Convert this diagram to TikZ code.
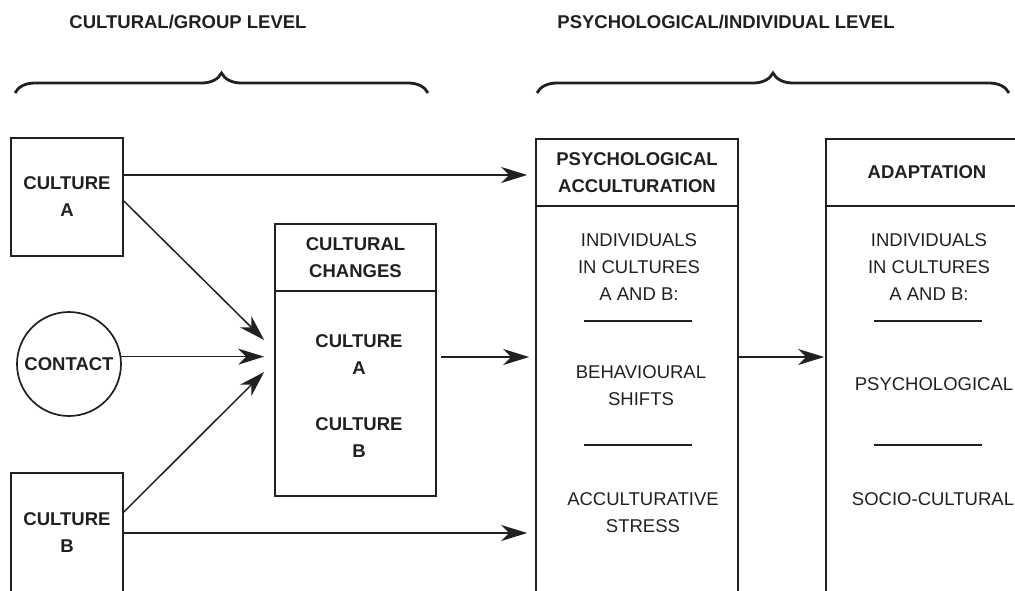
\documentclass[tikz,border=0pt]{standalone}
\usepackage{fontspec}
\setmainfont{Liberation Sans}
\usetikzlibrary{arrows.meta,decorations.pathreplacing}
\definecolor{ink}{HTML}{231F20}

\begin{document}
\begin{tikzpicture}[x=1pt, y=-1pt,
        >={Stealth[length=26pt, width=16pt, inset=8pt]},
        plain/.style={font=\fontsize{18.5}{27}\selectfont, text=ink, align=center},
        bold/.style={font=\fontsize{18.5}{27}\selectfont\bfseries, text=ink, align=center},
        box/.style={draw=ink, line width=1.7pt, inner sep=0pt},
        link/.style={->, draw=ink, line width=1.5pt},
        sepline/.style={draw=ink, line width=1.6pt},
        levelbrace/.style={draw=ink, line width=2.8pt, decorate, decoration={brace, amplitude=20pt}}]

        \clip (0,0) rectangle (1015,590);

        % level titles
        \node[bold] (lvlGroup) at (188,22) {CULTURAL/GROUP LEVEL};
        \node[bold] (lvlIndiv) at (726,22) {PSYCHOLOGICAL/INDIVIDUAL LEVEL};

        % braces
        \draw[levelbrace] (15,93) -- (428,93);
        \draw[levelbrace] (537,93) -- (1009,93);

        % cultures and contact
        \node[box, bold, minimum width=112pt, minimum height=118pt] (cultA) at (67,197) {CULTURE\\A};
        \node[box, bold, circle, minimum size=104pt] (contact) at (69,364) {CONTACT};
        \node[box, bold, minimum width=112pt, minimum height=120pt] (cultB) at (67,533) {CULTURE\\B};

        % cultural changes
        \node[box, minimum width=161pt, minimum height=272pt] (changes) at (355.5,360) {};
        \node[box, bold, minimum width=161pt, minimum height=67pt, anchor=north] (changesHd) at (changes.north) {CULTURAL\\CHANGES};
        \node[bold] (changesA) at (359,355) {CULTURE\\A};
        \node[bold] (changesB) at (359,438) {CULTURE\\B};

        % psychological acculturation
        \node[box, minimum width=202pt, minimum height=461pt] (psych) at (637,369.5) {};
        \node[box, bold, minimum width=202pt, minimum height=67pt, anchor=north] (psychHd) at (psych.north) {PSYCHOLOGICAL\\ACCULTURATION};
        \node[plain] (psInd) at (639,267) {INDIVIDUALS\\IN CULTURES\\A AND B:};
        \node[plain] (psBeh) at (641,385.5) {BEHAVIOURAL\\SHIFTS};
        \node[plain] (psStr) at (643,512.5) {ACCULTURATIVE\\STRESS};

        % adaptation
        \node[box, minimum width=202pt, minimum height=461pt] (adapt) at (927,369.5) {};
        \node[box, bold, minimum width=202pt, minimum height=67pt, anchor=north] (adaptHd) at (adapt.north) {ADAPTATION};
        \node[plain] (adInd) at (929,267) {INDIVIDUALS\\IN CULTURES\\A AND B:};
        \node[plain] (adPsy) at (934,384) {PSYCHOLOGICAL};
        \node[plain] (adSoc) at (933,499) {SOCIO-CULTURAL};

        % separators
        \foreach \cx in {638,928}
            \foreach \sy in {321,445}
                \draw[sepline] (\cx-54,\sy) -- (\cx+54,\sy);

        % edges to cultural changes
        \draw[link] ([yshift=-4pt]cultA.east) -- ([xshift=-10pt,yshift=20pt]changes.west);
        \draw[link, shorten >=10pt] (contact.8) -- (contact.8 -| changes.west);
        \draw[link] ([yshift=21pt]cultB.east) -- ([xshift=-10pt,yshift=-12pt]changes.west);

        % edges to psychological acculturation
        \draw[link, shorten >=8pt] ([yshift=22pt]cultA.east) -- ([yshift=22pt]cultA.east -| psych.west);
        \draw[link, shorten <=4pt, shorten >=6pt] ([yshift=3pt]changes.east) -- ([yshift=3pt]changes.east -| psych.west);
        \draw[link, shorten >=8pt] (cultB.east) -- (cultB.east -| psych.west);

        % edge to adaptation
        \draw[link, shorten >=1pt] ([yshift=12.5pt]psych.east) -- ([yshift=12.5pt]psych.east -| adapt.west);

        \end{tikzpicture}
\end{document}
